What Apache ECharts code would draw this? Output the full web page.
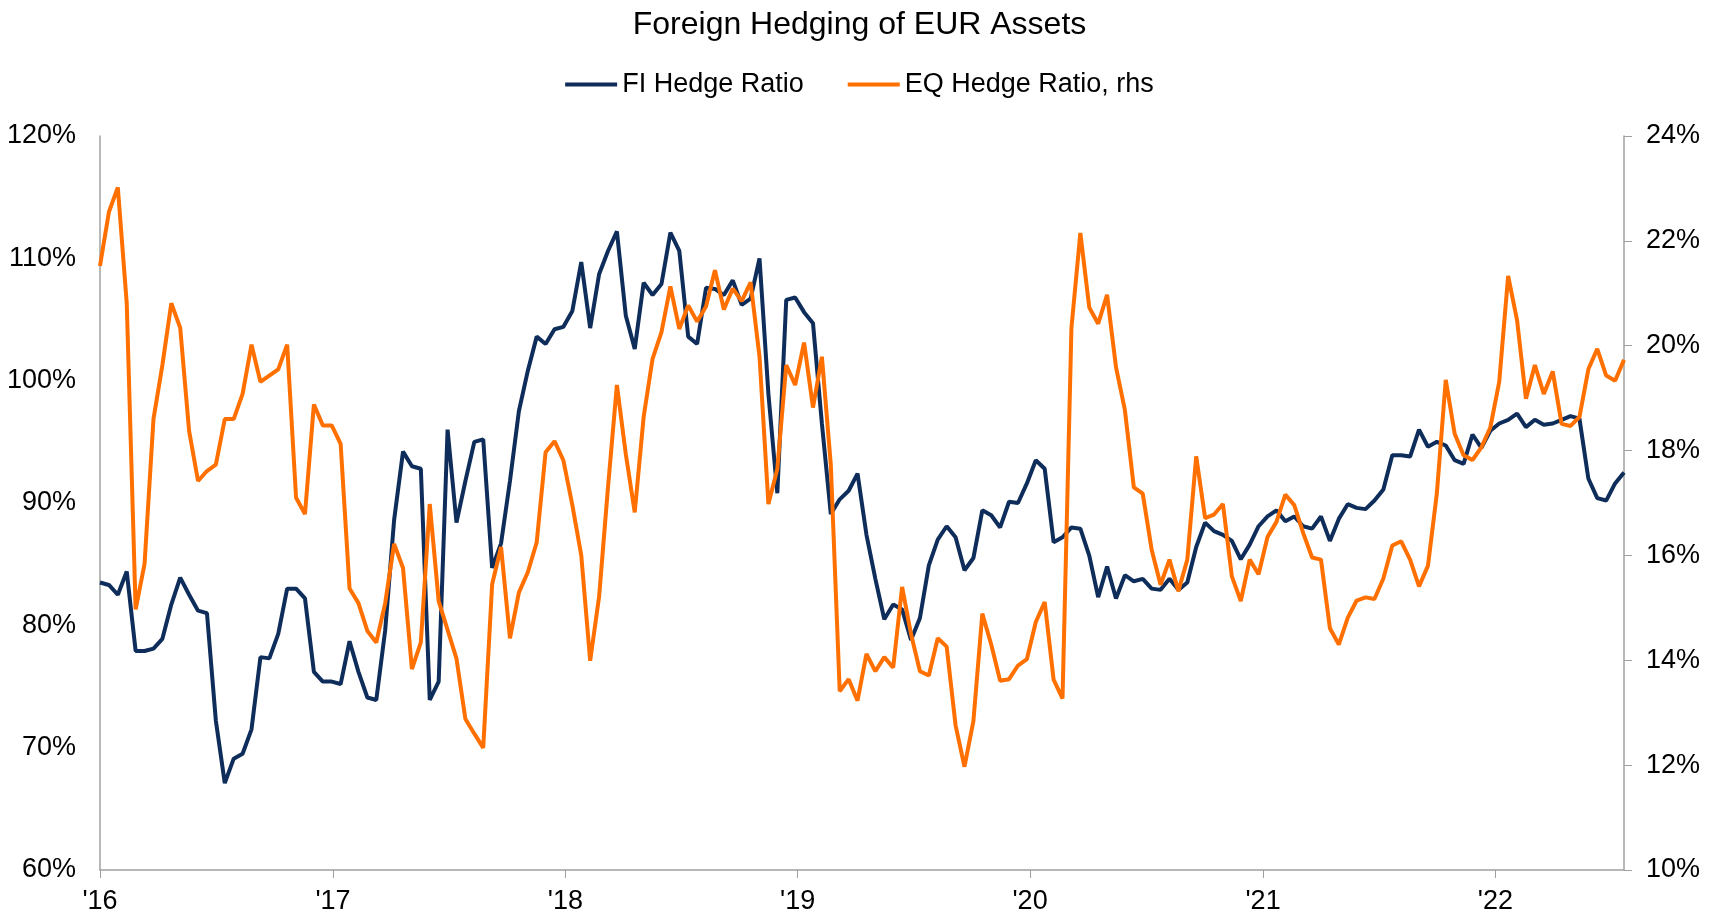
<!DOCTYPE html>
<html>
<head>
<meta charset="utf-8">
<title>Foreign Hedging of EUR Assets</title>
<script src="https://cdn.jsdelivr.net/npm/echarts@6/dist/echarts.min.js"></script>
<style>
  html, body { margin: 0; padding: 0; background: #fff; }
  #chart { width: 1719px; height: 915px; }
</style>
</head>
<body>
<div id="chart"></div>
<script>
// biweekly observations, first one on 1 Jan 2016
const startDate = Date.UTC(2016, 0, 1);
const stepDays = 14;

// FI hedge ratio, % (left axis)
const fiHedge = [
  83.5, 83.3, 82.5, 84.4, 77.9, 77.9, 78.1, 78.9, 81.7, 83.9,
  82.5, 81.2, 81.0, 72.2, 67.1, 69.1, 69.5, 71.5, 77.4, 77.3,
  79.3, 83.0, 83.0, 82.2, 76.2, 75.4, 75.4, 75.2, 78.7, 76.2,
  74.1, 73.9, 79.6, 88.6, 94.2, 93.0, 92.8, 73.9, 75.4, 96.0,
  88.4, 91.8, 95.0, 95.2, 84.7, 86.7, 91.8, 97.5, 100.8, 103.6,
  103.0, 104.2, 104.4, 105.7, 109.7, 104.3, 108.7, 110.6, 112.2, 105.3,
  102.6, 108.0, 107.0, 107.9, 112.1, 110.6, 103.6, 103.0, 107.6, 107.5,
  107.0, 108.2, 106.2, 106.7, 110.0, 98.9, 90.8, 106.6, 106.8, 105.6,
  104.7, 96.5, 89.1, 90.3, 91.0, 92.4, 87.4, 83.8, 80.5, 81.7,
  81.3, 78.8, 80.6, 84.9, 87.0, 88.1, 87.2, 84.5, 85.5, 89.4,
  89.0, 88.0, 90.1, 90.0, 91.6, 93.5, 92.8, 86.8, 87.2, 88.0,
  87.9, 85.7, 82.3, 84.8, 82.2, 84.1, 83.6, 83.8, 83.0, 82.9,
  83.8, 82.9, 83.5, 86.4, 88.4, 87.7, 87.4, 86.9, 85.4, 86.6,
  88.1, 88.9, 89.4, 88.5, 88.9, 88.1, 87.9, 88.9, 86.9, 88.7,
  89.9, 89.6, 89.5, 90.2, 91.1, 93.9, 93.9, 93.8, 96.0, 94.6,
  95.0, 94.7, 93.5, 93.2, 95.6, 94.5, 95.9, 96.5, 96.8, 97.3,
  96.2, 96.8, 96.4, 96.5, 96.8, 97.1, 96.9, 92.0, 90.4, 90.2,
  91.6, 92.5
];

// EQ hedge ratio, % (right axis)
const eqHedge = [
  21.52, 22.55, 23.02, 20.81, 14.97, 15.84, 18.60, 19.63, 20.81, 20.34,
  18.37, 17.42, 17.61, 17.73, 18.60, 18.60, 19.08, 20.02, 19.31, 19.43,
  19.55, 20.02, 17.10, 16.79, 18.88, 18.48, 18.48, 18.13, 15.37, 15.09,
  14.56, 14.34, 15.09, 16.22, 15.76, 13.83, 14.34, 16.98, 15.13, 14.58,
  14.03, 12.88, 12.60, 12.33, 15.45, 16.16, 14.42, 15.29, 15.68, 16.25,
  17.97, 18.18, 17.81, 16.96, 16.00, 13.99, 15.21, 17.30, 19.25, 17.93,
  16.82, 18.64, 19.75, 20.26, 21.13, 20.32, 20.77, 20.46, 20.75, 21.44,
  20.69, 21.09, 20.85, 21.21, 19.79, 16.98, 17.65, 19.63, 19.25, 20.06,
  18.82, 19.79, 17.73, 13.41, 13.64, 13.23, 14.12, 13.79, 14.06, 13.86,
  15.40, 14.50, 13.79, 13.71, 14.42, 14.26, 12.76, 11.97, 12.84, 14.89,
  14.30, 13.61, 13.64, 13.90, 14.02, 14.73, 15.11, 13.63, 13.27, 20.34,
  22.15, 20.73, 20.42, 20.97, 19.59, 18.77, 17.30, 17.18, 16.11, 15.44,
  15.92, 15.32, 15.92, 17.89, 16.71, 16.78, 16.98, 15.60, 15.13, 15.92,
  15.64, 16.35, 16.64, 17.16, 16.96, 16.43, 15.96, 15.92, 14.61, 14.30,
  14.81, 15.14, 15.20, 15.17, 15.56, 16.19, 16.27, 15.92, 15.41, 15.80,
  17.18, 19.35, 18.32, 17.91, 17.82, 18.06, 18.44, 19.31, 21.33, 20.49,
  18.99, 19.63, 19.08, 19.51, 18.51, 18.47, 18.64, 19.55, 19.94, 19.43,
  19.33, 19.73
];

const dates = fiHedge.map((v, i) => startDate + i * stepDays * 86400000);

const leftTicks = { min: 60, max: 120, interval: 10 };
const rightTicks = { min: 10, max: 24, interval: 2 };

const font = "'Liberation Sans', Arial, sans-serif";
const axisGray = "#a0a0a0";

let chart = echarts.init(document.getElementById("chart"), null, { renderer: "canvas" });

let option = {
  backgroundColor: "#ffffff",
  animation: false,
  title: {
    text: "Foreign Hedging of EUR Assets",
    left: "center",
    top: 4,
    textStyle: { fontFamily: font, fontSize: 32, fontWeight: "normal", color: "#000" }
  },
  legend: {
    data: ["FI Hedge Ratio", "EQ Hedge Ratio, rhs"],
    top: 66,
    left: "center",
    icon: "rect",
    itemWidth: 52,
    itemHeight: 4,
    itemGap: 44,
    textStyle: { fontFamily: font, fontSize: 27, color: "#000" }
  },
  grid: { left: 100, right: 95, top: 136, bottom: 44 },
  xAxis: {
    type: "time",
    min: dates[0],
    max: dates[dates.length - 1],
    minInterval: 365 * 86400000,
    maxInterval: 366 * 86400000,
    axisLine: { show: true, lineStyle: { color: axisGray, width: 1.5 } },
    axisTick: { show: true, length: 8, lineStyle: { color: axisGray, width: 1 } },
    splitLine: { show: false },
    axisLabel: {
      showMaxLabel: false,
      margin: 18,
      fontFamily: font,
      fontSize: 27,
      color: "#000",
      formatter: function (val) {
        return "'" + String(new Date(val).getFullYear()).slice(2);
      }
    }
  },
  yAxis: [
    {
      type: "value",
      position: "left",
      min: leftTicks.min,
      max: leftTicks.max,
      interval: leftTicks.interval,
      axisLine: { show: true, lineStyle: { color: axisGray, width: 1.5 } },
      axisTick: { show: false },
      splitLine: { show: false },
      axisLabel: { margin: 24, fontFamily: font, fontSize: 27, color: "#000", formatter: "{value}%" }
    },
    {
      type: "value",
      position: "right",
      min: rightTicks.min,
      max: rightTicks.max,
      interval: rightTicks.interval,
      axisLine: { show: true, lineStyle: { color: axisGray, width: 1.5 } },
      axisTick: { show: true, length: 8, lineStyle: { color: axisGray } },
      splitLine: { show: false },
      axisLabel: { margin: 22, fontFamily: font, fontSize: 27, color: "#000", formatter: "{value}%" }
    }
  ],
  series: [
    {
      name: "FI Hedge Ratio",
      type: "line",
      yAxisIndex: 0,
      showSymbol: false,
      symbol: "none",
      color: "#0f2d5a",
      lineStyle: { width: 4, color: "#0f2d5a" },
      data: dates.map((d, i) => [d, fiHedge[i]]),
      z: 2
    },
    {
      name: "EQ Hedge Ratio, rhs",
      type: "line",
      yAxisIndex: 1,
      showSymbol: false,
      symbol: "none",
      color: "#ff7000",
      lineStyle: { width: 4, color: "#ff7000" },
      data: dates.map((d, i) => [d, eqHedge[i]]),
      z: 3
    }
  ]
};

chart.setOption(option);
</script>
</body>
</html>
